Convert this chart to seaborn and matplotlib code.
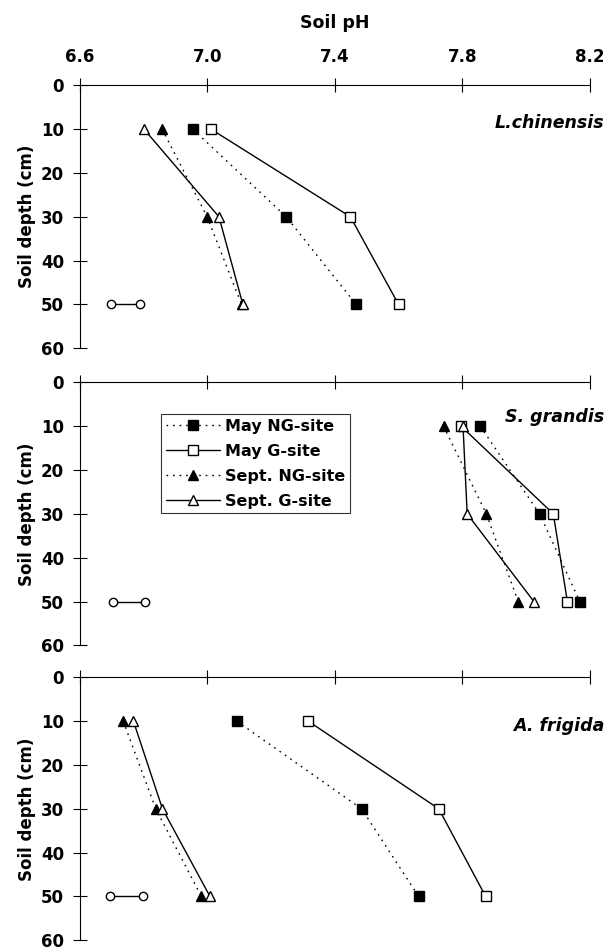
import matplotlib
matplotlib.use("Agg")
import matplotlib.pyplot as plt
import seaborn as sns
import pandas as pd

sns.set_style("white")
plt.rcParams['font.family'] = ['DejaVu Sans']
plt.rcParams['font.weight'] = 'bold'
plt.rcParams['text.color'] = 'black'
plt.rcParams['axes.labelcolor'] = 'black'
plt.rcParams['xtick.color'] = 'black'
plt.rcParams['ytick.color'] = 'black'

depth = [10, 30, 50]
species = ["L.chinensis", "S. grandis", "A. frigida"]
series = ["May NG-site", "May G-site", "Sept. NG-site", "Sept. G-site"]

# soil pH per species, per series (10, 30, 50 cm)
ph_lchinensis = {
    "May NG-site": [6.955, 7.248, 7.467],
    "May G-site": [7.012, 7.449, 7.600],
    "Sept. NG-site": [6.859, 7.000, 7.108],
    "Sept. G-site": [6.802, 7.037, 7.112],
}
ph_sgrandis = {
    "May NG-site": [7.856, 8.042, 8.168],
    "May G-site": [7.796, 8.085, 8.129],
    "Sept. NG-site": [7.741, 7.875, 7.975],
    "Sept. G-site": [7.802, 7.815, 8.024],
}
ph_afrigida = {
    "May NG-site": [7.093, 7.484, 7.663],
    "May G-site": [7.317, 7.726, 7.873],
    "Sept. NG-site": [6.737, 6.839, 6.982],
    "Sept. G-site": [6.769, 6.860, 7.009],
}
# LSD bar ends at 50 cm
lsd_ph = [[6.699, 6.789], [6.705, 6.806], [6.696, 6.798]]
lsd_depth = [50, 50]
label_depth = [8.5, 8.0, 11.0]

all_data = [ph_lchinensis, ph_sgrandis, ph_afrigida]

styles = {
    "May NG-site": dict(marker="s", mfc="black", ls=(0, (1.2, 3.5))),
    "May G-site": dict(marker="s", mfc="white", ls="-"),
    "Sept. NG-site": dict(marker="^", mfc="black", ls=(0, (1.2, 3.5))),
    "Sept. G-site": dict(marker="^", mfc="white", ls="-"),
}

fig = plt.figure(figsize=(6.13, 9.5), dpi=100)
bottoms = [0.6334, 0.3207, 0.0102]
axes = [fig.add_axes([0.1297, b, 0.8328, 0.2768]) for b in bottoms]

for i, ax in enumerate(axes):
    vals = all_data[i]
    for s in series:
        df = pd.DataFrame({"pH": vals[s], "depth": depth})
        st = styles[s]
        sns.lineplot(data=df, x="pH", y="depth", ax=ax, orient="y",
                     estimator=None, color="black", lw=1.0,
                     marker=st["marker"], mfc=st["mfc"], mec="black",
                     mew=1.0, ms=7.5, linestyle=st["ls"],
                     label=s if i == 1 else None, legend=False)
    ax.plot(lsd_ph[i], lsd_depth, color="black", lw=1.0, marker="o",
            mfc="white", mec="black", ms=6, mew=1.0)

    ax.set_xlim(6.6, 8.2)
    ax.set_ylim(60, 0)
    ax.set_xticks([6.6, 7.0, 7.4, 7.8, 8.2])
    ax.set_yticks(range(0, 61, 10))
    ax.xaxis.tick_top()
    ax.tick_params(axis="x", direction="inout", length=10, width=0.8,
                   pad=9, labelsize=12, labeltop=(i == 0), colors="black")
    ax.tick_params(axis="y", direction="inout", length=10, width=0.8,
                   pad=6, labelsize=12, left=True, colors="black")
    for sp in ["right", "bottom"]:
        ax.spines[sp].set_visible(False)
    for sp in ["left", "top"]:
        ax.spines[sp].set_linewidth(0.8)
        ax.spines[sp].set_color("black")
    ax.set_ylabel("Soil depth (cm)", fontsize=12, fontweight="bold", labelpad=4)
    ax.set_xlabel("")
    ax.text(8.245, label_depth[i], species[i], ha="right", va="center",
            fontsize=12.5, fontweight="bold", style="italic", clip_on=False)
    ax.patch.set_alpha(0)

axes[0].xaxis.set_label_position("top")
axes[0].set_xlabel("Soil pH", fontsize=12.5, fontweight="bold", labelpad=14)

leg = axes[1].legend(loc="upper left", bbox_to_anchor=(0.16, 0.879),
                     frameon=True, fancybox=False, edgecolor="black",
                     fontsize=11.5, handlelength=3.4, labelspacing=0.62,
                     borderpad=0.3, handletextpad=0.3, borderaxespad=0)
leg.get_frame().set_linewidth(0.8)
for t in leg.get_texts():
    t.set_fontweight("bold")

fig.savefig("out.png", dpi=100)
